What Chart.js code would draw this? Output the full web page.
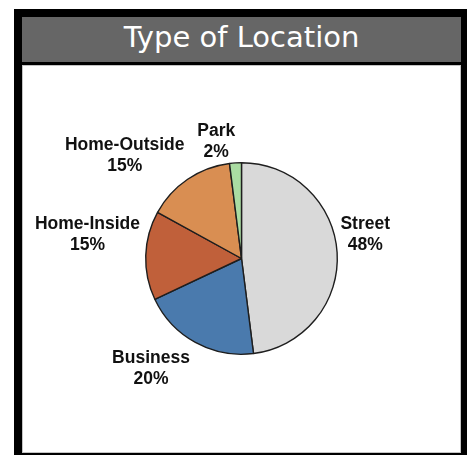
<!DOCTYPE html>
<html>
<head>
<meta charset="utf-8">
<script src="https://cdn.jsdelivr.net/npm/chart.js@4"></script>
<style>
  body { margin: 0; background: #fff; }
  #frame { position: absolute; left: 14px; top: 9px; width: 453px; height: 446px; background: #000; }
  #title {
    position: absolute; left: 22px; top: 17px; width: 439px; height: 45px;
    background: #666666; color: #fff; text-align: center;
    font: 29px "DejaVu Sans", sans-serif; line-height: 40px;
  }
  #panel {
    position: absolute; left: 22px; top: 65px; width: 437px; height: 386px;
    background: #fff; border: 1px solid #c4c4c4;
  }
  #chart { position: absolute; left: 22px; top: 65px; }
</style>
</head>
<body>
<div id="frame"></div>
<div id="title">Type of Location</div>
<div id="panel"></div>
<canvas id="chart" width="439" height="388"></canvas>
<script>
// Data
const categories = ['Street', 'Business', 'Home-Inside', 'Home-Outside', 'Park'];
const shares = [48, 20, 15, 15, 2];   // percent
const colors = ['#d9d9d9', '#4a7aad', '#c0603a', '#d98e52', '#aadca2'];

// label placement: angle clockwise from top (deg), distance in pie radii
const labelAngle = [78, 220, 279.5, 312, 348];
const labelDist = [1.32, 1.47, 1.63, 1.64, 1.27];

const outsideLabels = {
  id: 'outsideLabels',
  afterDatasetsDraw(chart) {
    const ctx = chart.ctx;
    const arcs = chart.getDatasetMeta(0).data;
    ctx.save();
    ctx.font = 'bold 17.5px "Liberation Sans", Arial, sans-serif';
    ctx.fillStyle = '#111';
    ctx.textAlign = 'center';
    ctx.textBaseline = 'middle';
    arcs.forEach((arc, i) => {
      const a = labelAngle[i] * Math.PI / 180;
      const d = arc.outerRadius * labelDist[i];
      const x = arc.x + d * Math.sin(a);
      const y = arc.y - d * Math.cos(a) + 2;
      ctx.fillText(categories[i], x, y - 10.5);
      ctx.fillText(shares[i] + '%', x, y + 10.5);
    });
    ctx.restore();
  }
};

new Chart(document.getElementById('chart'), {
  type: 'pie',
  data: {
    labels: categories,
    datasets: [{
      data: shares,
      backgroundColor: colors,
      borderColor: '#1e1e1e',
      borderWidth: 1.4
    }]
  },
  options: {
    responsive: false,
    animation: false,
    layout: { padding: { left: 123, right: 123, top: 97, bottom: 98 } },
    plugins: {
      legend: { display: false },
      tooltip: { enabled: false }
    }
  },
  plugins: [outsideLabels]
});
</script>
</body>
</html>
